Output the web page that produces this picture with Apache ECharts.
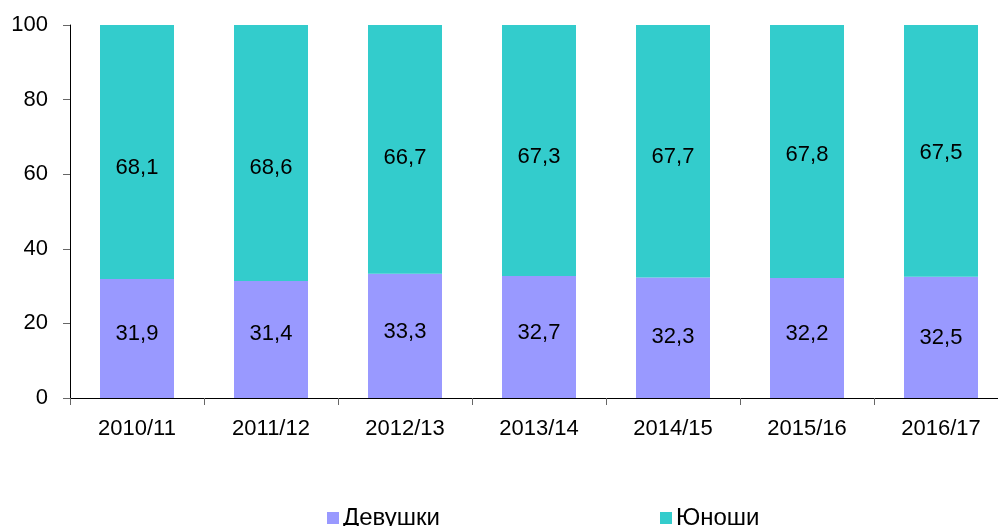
<!DOCTYPE html>
<html>
<head>
<meta charset="utf-8">
<script src="https://cdn.jsdelivr.net/npm/echarts@6/dist/echarts.min.js"></script>
<style>
  html, body { margin: 0; padding: 0; background: #fff; overflow: hidden; }
  /* исходная картинка обрезана справа: холст шире окна */
  #chart { width: 1010px; height: 526px; }
</style>
</head>
<body>
<div id="chart"></div>
<script>
const years = ['2010/11', '2011/12', '2012/13', '2013/14', '2014/15', '2015/16', '2016/17'];
const girls = [31.9, 31.4, 33.3, 32.7, 32.3, 32.2, 32.5];
const boys = [68.1, 68.6, 66.7, 67.3, 67.7, 67.8, 67.5];

// ручной сдвиг подписей по вертикали, как в исходнике
const girlsLabelDy = [-5, -6, -4, -4, -1, -4, 1];
const boysLabelDy = [16, 15, 9, 6, 6, 3, 2];

const font = 'Liberation Sans, Arial, sans-serif';
const fs = 22;

const chart = echarts.init(document.getElementById('chart'));

const fmt = (p) => p.value.toFixed(1).replace('.', ',');

const withShift = (vals, dy) => vals.map((v, i) => ({ value: v, label: { offset: [0, dy[i]] } }));

chart.setOption({
  animation: false,
  grid: { left: 70, top: 25, width: 938, height: 373, containLabel: false },
  legend: {
    left: 327,
    top: 506,
    padding: 0,
    itemWidth: 12,
    itemHeight: 12,
    itemGap: 220,
    icon: 'rect',
    textStyle: { fontFamily: font, fontSize: 24, color: '#000', padding: [2, 0, 0, -1] },
    data: ['Девушки', 'Юноши']
  },
  xAxis: {
    type: 'category',
    data: years,
    axisLine: { lineStyle: { color: '#000', width: 1 } },
    axisTick: { show: true, length: 7, lineStyle: { color: '#666' } },
    axisLabel: { color: '#000', fontFamily: font, fontSize: fs, margin: 20 }
  },
  yAxis: {
    type: 'value',
    min: 0,
    max: 100,
    interval: 20,
    splitLine: { show: false },
    axisLine: { show: true, lineStyle: { color: '#000', width: 1 } },
    axisTick: { show: true, length: 7, lineStyle: { color: '#666' } },
    axisLabel: { color: '#000', fontFamily: font, fontSize: fs, margin: 22 }
  },
  series: [
    {
      name: 'Девушки',
      type: 'bar',
      stack: 'all',
      barWidth: 74,
      data: withShift(girls, girlsLabelDy),
      itemStyle: { color: '#9999FF' },
      label: { show: true, position: 'inside', color: '#000', fontFamily: font, fontSize: fs, formatter: fmt }
    },
    {
      name: 'Юноши',
      type: 'bar',
      stack: 'all',
      barWidth: 74,
      data: withShift(boys, boysLabelDy),
      itemStyle: { color: '#33CCCC' },
      label: { show: true, position: 'inside', color: '#000', fontFamily: font, fontSize: fs, formatter: fmt }
    }
  ]
});
</script>
</body>
</html>
